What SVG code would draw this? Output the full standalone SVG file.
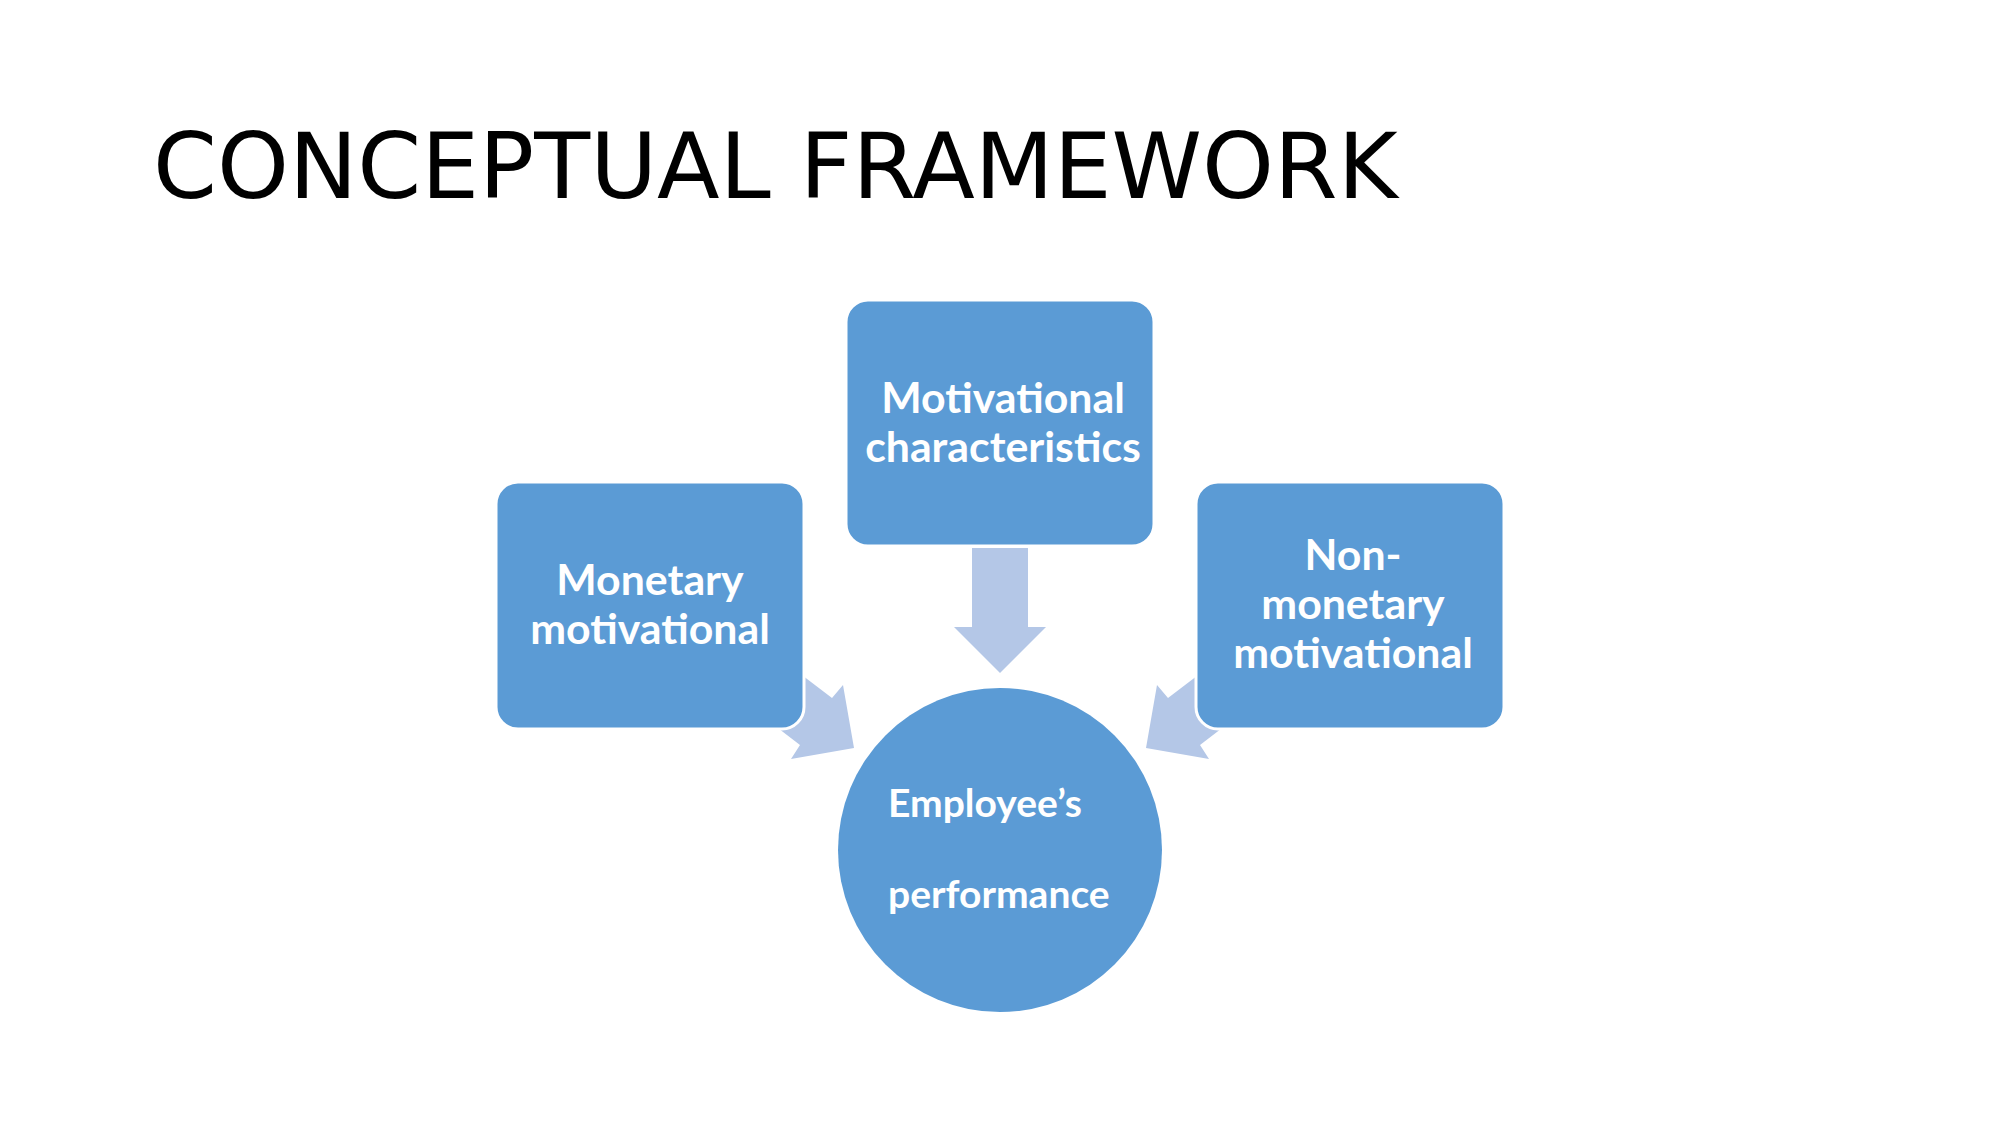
<svg xmlns="http://www.w3.org/2000/svg" width="2001" height="1125" viewBox="0 0 2001 1125">
  <style>
    .title { font-family: "DejaVu Sans", sans-serif; font-size: 91.5px; fill: #000000; }
    .box { fill: #5B9BD5; stroke: #FFFFFF; stroke-width: 3; }
    .lbl { font-family: Lato, "Open Sans", sans-serif; font-weight: bold; font-size: 42.8px; fill: #FFFFFF; text-anchor: middle; }
    .clbl { font-family: Lato, "Open Sans", sans-serif; font-weight: bold; font-size: 39px; fill: #FFFFFF; }
    .arrow { fill: #B4C7E7; stroke: none; }
  </style>
  <rect width="2001" height="1125" fill="#FFFFFF"/>
  <text class="title" x="153" y="198">CONCEPTUAL FRAMEWORK</text>

  <g id="connectors">
    <polygon class="arrow" points="972,548 1028,548 1028,627 1046,627 1000,673 954,627 972,627"/>
    <polygon class="arrow" points="790,666 832,698 843,685 854,748 791,759 800,745 770,722"/>
    <polygon class="arrow" points="1210,666 1168,698 1157,685 1146,748 1209,759 1200,745 1230,722"/>
  </g>

  <g id="node-top">
    <rect class="box" x="846" y="300" width="308" height="246" rx="22" ry="22"/>
    <text class="lbl" x="1003" y="413">Motivational</text>
    <text class="lbl" x="1003" y="462">characteristics</text>
  </g>

  <g id="node-left">
    <rect class="box" x="496" y="482" width="308" height="247" rx="22" ry="22"/>
    <text class="lbl" x="650" y="595">Monetary</text>
    <text class="lbl" x="650" y="644">motivational</text>
  </g>

  <g id="node-right">
    <rect class="box" x="1196" y="482" width="308" height="247" rx="22" ry="22"/>
    <text class="lbl" x="1353" y="570">Non-</text>
    <text class="lbl" x="1353" y="619">monetary</text>
    <text class="lbl" x="1353" y="668">motivational</text>
  </g>

  <g id="node-center">
    <circle cx="1000" cy="850" r="162" fill="#5B9BD5"/>
    <text class="clbl" x="888" y="817">Employee’s</text>
    <text class="clbl" x="888" y="908">performance</text>
  </g>
</svg>
